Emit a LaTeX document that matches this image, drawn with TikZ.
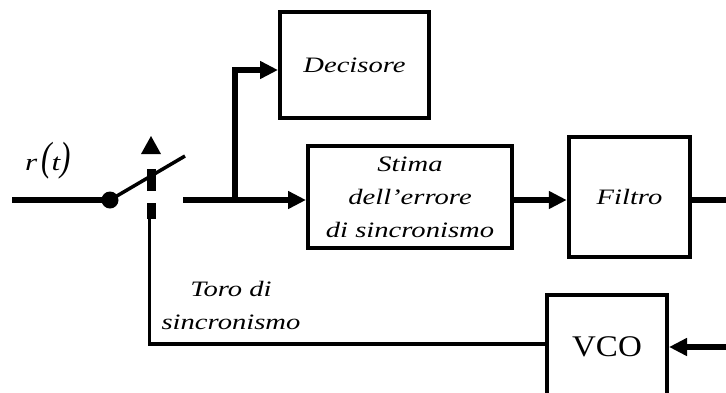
\documentclass[tikz,border=0pt]{standalone}
\usepackage{fontspec}
\usepackage{graphicx}
\usetikzlibrary{arrows.meta}
\newfontfamily\figfont[FakeStretch=1.3]{Liberation Serif}
\newfontfamily\vcofont[FakeStretch=1.1]{Liberation Serif}
\begin{document}
\begin{tikzpicture}[x=1pt,y=-1pt,
  blk/.style={draw, line width=4pt, rectangle, inner sep=0pt, font=\figfont\itshape\fontsize{22}{33}\selectfont, align=center},
  sig/.style={line width=5.5pt},
  fb/.style={line width=3.5pt},
  tip/.style={-{Triangle[length=18pt,width=17pt]}},
  lbl/.style={font=\figfont\itshape\fontsize{22}{33}\selectfont, align=center, inner sep=0pt}]
\useasboundingbox[fill=white] (0,0) rectangle (726,392);

\node[blk, minimum width=149pt, minimum height=106pt] (dec) at (354.5,65) {Decisore};
\node[blk, minimum width=204pt, minimum height=102pt] (est) at (410,197) {Stima\\dell’errore\\di sincronismo};
\node[blk, minimum width=121pt, minimum height=120pt, line width=4.5pt] (fil) at (629.5,197) {Filtro};
\node[blk, minimum width=120pt, minimum height=103pt, font=\vcofont\fontsize{30}{30}\selectfont] (vco) at (607,346.5) {VCO};

\coordinate (in) at (12,200);
\coordinate (pivot) at (110,200);
\coordinate (armend) at (185,156);
\coordinate (swout) at (183,200);
\coordinate (branch) at (235,200);
\coordinate (mainy) at (0,200);
\coordinate (fby) at (0,344);
\coordinate (vcoy) at (0,347);
\coordinate (rightA) at (726,200);
\coordinate (rightB) at (726,347);
\coordinate (fbtop) at (149.5,218);
\coordinate (fbcorner) at (149.5,344);

\draw[sig] (in) -- (pivot);
\fill (pivot) circle (8.5pt);
\draw[line width=3.5pt] (pivot) -- (armend);
\fill (147,169) rectangle (155.5,191);
\fill (147,203) rectangle (155.5,219);
\fill (141,154) -- (161,154) -- (151,136) -- cycle;

\draw[sig, tip] (swout) -- (est.west |- mainy);
\draw[sig, tip] (branch) |- ([yshift=-5pt]dec.west);
\draw[sig, tip] (est.east |- mainy) -- (fil.west |- mainy);
\draw[sig] (fil.east |- mainy) -- (rightA);
\draw[sig, tip] (rightB) -- (vco.east |- vcoy);
\draw[fb] (vco.west |- fby) -- (fbcorner) -- (fbtop);

\node[lbl, font=\figfont\itshape\fontsize{24}{24}\selectfont] (rt) at (48,161) {r\,\scalebox{1}[1.7]{(}t\scalebox{1}[1.7]{)}};
\node[lbl] (toro) at (231,305) {Toro di\\sincronismo};
\end{tikzpicture}
\end{document}
